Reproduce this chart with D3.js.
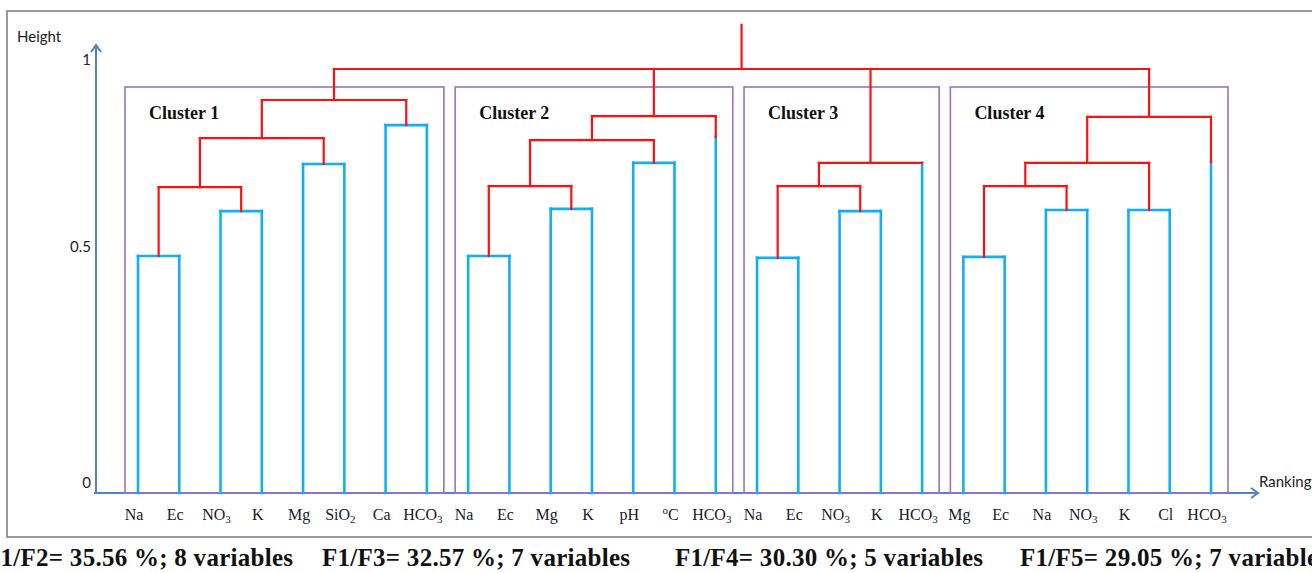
<!DOCTYPE html>
<html>
<head>
<meta charset="utf-8">
<script src="https://cdn.jsdelivr.net/npm/d3@7"></script>
<style>
  body { margin: 0; background: #fff; }
  svg { display: block; }
</style>
</head>
<body>
<div id="chart"></div>
<script>
// leaves, left to right along the ranking axis ("_" = subscript, "^" = superscript)
const leafLabels = [
  "Na", "Ec", "NO_3", "K", "Mg", "SiO_2", "Ca", "HCO_3",
  "Na", "Ec", "Mg", "K", "pH", "^oC", "HCO_3",
  "Na", "Ec", "NO_3", "K", "HCO_3",
  "Mg", "Ec", "Na", "NO_3", "K", "Cl", "HCO_3"
];

// merges: id, children (leaf index or merge id), height
const merges = [
  ["a1", [0, 1], 0.481],
  ["a2", [2, 3], 0.596],
  ["a3", [4, 5], 0.722],
  ["a4", [6, 7], 0.826],
  ["a5", ["a1", "a2"], 0.660],
  ["a6", ["a5", "a3"], 0.791],
  ["a7", ["a6", "a4"], 0.893],
  ["b1", [8, 9], 0.481],
  ["b2", [10, 11], 0.602],
  ["b3", [12, 13], 0.725],
  ["b4", ["b1", "b2"], 0.663],
  ["b5", ["b4", "b3"], 0.786],
  ["b6", ["b5", 14], 0.850],
  ["c1", [15, 16], 0.477],
  ["c2", [17, 18], 0.596],
  ["c3", ["c1", "c2"], 0.663],
  ["c4", ["c3", 19], 0.725],
  ["d1", [20, 21], 0.479],
  ["d2", [22, 23], 0.599],
  ["d3", [24, 25], 0.599],
  ["d4", ["d1", "d2"], 0.663],
  ["d5", ["d4", "d3"], 0.725],
  ["d6", ["d5", 26], 0.848],
  ["root", ["a7", "b6", "c4", "d6"], 0.976]
];

// single leaves: height where the leaf line (blue) meets the link (red)
const singleStems = [[14, 0.794], [19, 0.725], [26, 0.727]];
const rootTop = 1.094;

const clusterRoots = ["a7", "b6", "c4", "d6"];
const clusterNames = ["Cluster 1", "Cluster 2", "Cluster 3", "Cluster 4"];
const yTicks = [0, 0.5, 1];
const captions = [
  "F1/F2= 35.56 %; 8 variables",
  "F1/F3= 32.57 %; 7 variables",
  "F1/F4= 30.30 %; 5 variables",
  "F1/F5= 29.05 %; 7 variables"
];

let width = 1312;
let height = 573;
let baseline = 493;
let boxTop = 87;
let captionX = [-15, 322, 675, 1020];

let blue = "#12aff0",
  red = "#ff1010",
  purple = "#9673c4",
  axisCol = "#5183c3";

let x = d3.scalePoint().domain(d3.range(leafLabels.length)).range([138, 1211]);
let y = d3.scaleLinear().domain([0, 0.5, 1]).range([483, 247, 60]);

// build the tree
let mergeById = new Map(merges.map((m) => [m[0], m]));
let stemByLeaf = new Map(singleStems);

function build(id) {
  if (typeof id === "number") return { id: id };
  let m = mergeById.get(id);
  return { id: id, h: m[2], children: m[1].map(build) };
}

let root = d3.hierarchy(build("root"));
root.eachAfter(function (d) {
  if (!d.children) d.x = x(d.data.id);
  else d.x = (d.children[0].x + d.children[d.children.length - 1].x) / 2;
});

let svg = d3
  .select("#chart")
  .append("svg")
  .attr("width", width)
  .attr("height", height);

let defs = svg.append("defs");
defs
  .append("marker")
  .attr("id", "arrow")
  .attr("viewBox", "0 0 12 12")
  .attr("refX", 10)
  .attr("refY", 6)
  .attr("markerWidth", 12)
  .attr("markerHeight", 12)
  .attr("markerUnits", "userSpaceOnUse")
  .attr("orient", "auto")
  .append("path")
  .attr("d", "M3,1 L10,6 L3,11")
  .attr("fill", "none")
  .attr("stroke", axisCol)
  .attr("stroke-width", 2);

// outer frame
svg
  .append("rect")
  .attr("x", 7)
  .attr("y", 11)
  .attr("width", 1330)
  .attr("height", 526)
  .attr("fill", "none")
  .attr("stroke", "#7a7a7a")
  .attr("stroke-width", 1.5);

// axes
svg
  .append("line")
  .attr("x1", 96)
  .attr("y1", baseline)
  .attr("x2", 96)
  .attr("y2", 45)
  .attr("stroke", axisCol)
  .attr("stroke-width", 2)
  .attr("marker-end", "url(#arrow)");

svg
  .append("line")
  .attr("x1", 94)
  .attr("y1", baseline)
  .attr("x2", 1258)
  .attr("y2", baseline)
  .attr("stroke", axisCol)
  .attr("stroke-width", 2)
  .attr("marker-end", "url(#arrow)");

let yAxis = svg
  .append("g")
  .attr("transform", "translate(96,0)")
  .call(d3.axisLeft(y).tickValues(yTicks).tickSize(0).tickPadding(5).tickFormat(d3.format("")));
yAxis.select(".domain").remove();
yAxis
  .selectAll("text")
  .attr("font-family", "Lato, 'Open Sans', sans-serif")
  .attr("font-size", 15)
  .attr("fill", "#222");

svg
  .append("text")
  .attr("x", 17)
  .attr("y", 42)
  .attr("font-family", "Lato, 'Open Sans', sans-serif")
  .attr("font-size", 15)
  .attr("fill", "#222")
  .text("Height");

svg
  .append("text")
  .attr("x", 1259)
  .attr("y", 487)
  .attr("font-family", "Lato, 'Open Sans', sans-serif")
  .attr("font-size", 15)
  .attr("fill", "#222")
  .text("Ranking");

// cluster boxes
let clusters = clusterRoots.map(function (id, i) {
  let node = root.descendants().find((d) => d.data.id === id);
  let lv = node.leaves();
  return {
    name: clusterNames[i],
    x0: lv[0].x - 13,
    x1: lv[lv.length - 1].x + 17
  };
});

let box = svg
  .selectAll("g.cluster")
  .data(clusters)
  .enter()
  .append("g")
  .attr("class", "cluster");

box
  .append("rect")
  .attr("x", (d) => d.x0)
  .attr("y", boxTop)
  .attr("width", (d) => d.x1 - d.x0)
  .attr("height", baseline - boxTop)
  .attr("fill", "none")
  .attr("stroke", purple)
  .attr("stroke-width", 1.6);

box
  .append("text")
  .attr("x", (d) => d.x0 + 24)
  .attr("y", 119)
  .attr("font-family", "'Liberation Serif', 'Times New Roman', serif")
  .attr("font-weight", "bold")
  .attr("font-size", 18)
  .attr("fill", "#111")
  .text((d) => d.name);

// dendrogram links
let gBlue = svg.append("g").attr("stroke", blue).attr("stroke-width", 2.6).attr("fill", "none");
let gRed = svg.append("g").attr("stroke", red).attr("stroke-width", 2.2).attr("fill", "none");

function seg(g, x1, y1, x2, y2) {
  g.append("line")
    .attr("x1", x1)
    .attr("y1", y1)
    .attr("x2", x2)
    .attr("y2", y2)
    .attr("stroke-linecap", "square");
}

root.each(function (d) {
  if (!d.children) return;
  let hy = y(d.data.h);
  let pair = d.children.every((c) => !c.children);
  let first = d.children[0],
    last = d.children[d.children.length - 1];
  seg(pair ? gBlue : gRed, first.x, hy, last.x, hy);
  d.children.forEach(function (c) {
    if (!c.children) {
      if (pair) {
        seg(gBlue, c.x, hy, c.x, baseline);
      } else {
        let sy = y(stemByLeaf.get(c.data.id));
        if (sy > hy) seg(gRed, c.x, hy, c.x, sy);
        seg(gBlue, c.x, sy, c.x, baseline);
      }
    } else {
      seg(gRed, c.x, hy, c.x, y(c.data.h));
    }
  });
});
seg(gRed, root.x, y(root.data.h), root.x, y(rootTop));

// leaf labels
let labels = svg
  .append("g")
  .attr("font-family", "'Liberation Serif', 'Times New Roman', serif")
  .attr("font-size", 16)
  .attr("fill", "#1a1a2a")
  .attr("text-anchor", "middle")
  .selectAll("text")
  .data(root.leaves())
  .enter()
  .append("text")
  .attr("x", (d) => d.x - 4)
  .attr("y", 520);

labels.each(function (d) {
  let t = d3.select(this);
  let s = leafLabels[d.data.id];
  if (s[0] === "^") {
    t.append("tspan").attr("font-size", 11).attr("dy", -6).text(s[1]);
    t.append("tspan").attr("dy", 6).text(s.slice(2));
  } else if (s.indexOf("_") > 0) {
    let parts = s.split("_");
    t.append("tspan").text(parts[0]);
    t.append("tspan").attr("font-size", 11).attr("dy", 3).text(parts[1]);
  } else {
    t.text(s);
  }
});

// captions
svg
  .append("g")
  .selectAll("text")
  .data(captions)
  .enter()
  .append("text")
  .attr("x", (d, i) => captionX[i])
  .attr("y", 566)
  .attr("font-family", "'Liberation Serif', 'Times New Roman', serif")
  .attr("font-weight", "bold")
  .attr("font-size", 25)
  .attr("textLength", 308)
  .attr("fill", "#111")
  .text((d) => d);
</script>
</body>
</html>
